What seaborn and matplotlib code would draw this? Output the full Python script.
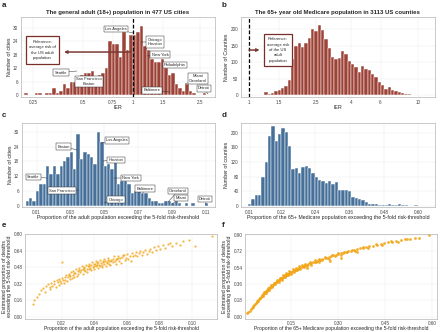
import numpy as np
import pandas as pd
import seaborn as sns
import matplotlib
matplotlib.use("Agg")
import matplotlib.pyplot as plt

sns.set_theme(style="whitegrid")
plt.rcParams['font.family'] = ['Liberation Sans', 'DejaVu Sans']

# ---------------- data ----------------
# Panel a: IER histogram, 477 cities (log10 bins)
a_bin_lo, a_bin_w = -0.6545, 0.021
a_counts = [1, 0, 0, 1, 1, 0, 1, 1, 3, 1, 2, 5, 3,
            6, 6, 7, 9, 10, 10, 11, 8, 9, 10, 12,
            24, 23, 23, 17, 28, 20, 27, 27, 28, 31,
            22, 20, 16, 15,
            15, 16, 12, 9, 10, 5, 3, 2, 5, 2, 1, 0, 0, 1]
a_ticks = [0.25, 0.5, 0.75, 1, 1.5, 2.5]
a_tick_labels = ["0.25", "0.5", "0.75", "1", "1.5", "2.5"]

# Panel b: IER histogram, 3113 counties (log10 bins)
b_bin_lo, b_bin_w = 0.0494, 0.01976
b_counts = [2, 0, 10, 5, 8, 12, 17, 22, 28, 45,
            110, 150, 158, 145, 157, 172, 200, 195, 212, 196,
            170, 143, 115, 110, 112, 135, 125, 105, 95, 85,
            70, 88, 80, 75, 63, 55, 40, 30, 20, 25,
            15, 14, 10, 7, 5, 4, 2, 1, 0, 2]
b_ticks = [1, 1.5, 2.5, 4, 6, 10]
b_tick_labels = ["1", "1.5", "2.5", "4", "6", "10"]

# Panel c: proportion of adults over 5-fold threshold (cities)
c_bin_lo, c_bin_w = 0.0035, 0.002
c_counts = [2, 3, 2, 6, 9, 9, 16, 13, 16, 13,
            16, 18, 20, 22, 15, 29, 19, 22, 21, 20,
            17, 30, 26, 16, 17, 15, 20, 9, 10, 10,
            9, 5, 6, 7, 5, 5, 3, 2, 2, 1,
            1, 2, 2, 1, 2, 1, 0, 1, 0, 1, 0, 0, 0, 1]
c_ticks = [0.01, 0.03, 0.05, 0.07, 0.09, 0.11]

# Panel d: proportion of 65+ Medicare population over threshold (counties)
d_bin_lo, d_bin_w = 0.0042, 0.01166
d_counts = [5, 17, 28, 30, 79, 120, 190, 218, 178, 196,
            214, 201, 165, 100, 104, 90, 106, 108, 103, 90,
            80, 71, 69, 62, 69, 60, 66, 44, 44, 42,
            39, 24, 21, 17, 15, 9, 5, 5, 4, 3,
            3, 3, 4, 2, 2, 5, 2, 1, 0, 0, 2]
d_ticks = [0.01, 0.12, 0.24, 0.36, 0.48, 0.60]

# Panel e: cities scatter
e_x = [0.0026, 0.0032, 0.0045, 0.0062, 0.0070, 0.0087, 0.0097, 0.0105, 0.0118, 0.0125,
       0.0128, 0.0135, 0.0142, 0.015, 0.0155, 0.0162, 0.0168, 0.0175, 0.018, 0.0185,
       0.019, 0.0195, 0.020, 0.0203, 0.0208, 0.0212, 0.0218, 0.0222, 0.0228, 0.0232,
       0.0238, 0.0243, 0.0248, 0.0252, 0.0258, 0.0262, 0.0268, 0.0272, 0.0278, 0.0282,
       0.0288, 0.0292, 0.0298, 0.0302, 0.0308, 0.0312, 0.0318, 0.0322, 0.0328, 0.0332,
       0.0338, 0.0342, 0.0348, 0.0352, 0.0358, 0.0362, 0.0368, 0.0372, 0.0378, 0.0382,
       0.0388, 0.0392, 0.0398, 0.0402, 0.0408, 0.0412, 0.0418, 0.0422, 0.0428, 0.0432,
       0.0438, 0.0442, 0.0448, 0.0452, 0.0458, 0.0462, 0.0468, 0.0472, 0.0478, 0.0482,
       0.0488, 0.0492, 0.0498, 0.0505, 0.0512, 0.0518, 0.0525, 0.0532, 0.0538, 0.0545,
       0.0552, 0.0558, 0.0565, 0.0572, 0.058, 0.0588, 0.0595, 0.0602, 0.061, 0.0618,
       0.0625, 0.0632, 0.064, 0.0648, 0.0655, 0.0665, 0.0672, 0.068, 0.069, 0.070,
       0.0712, 0.0722, 0.0735, 0.0745, 0.0755, 0.0768, 0.078, 0.0792, 0.0805, 0.082,
       0.0835, 0.0852, 0.0867, 0.088, 0.0905, 0.0925, 0.0944, 0.098, 0.102, 0.1123,
       0.0245, 0.0275, 0.0305, 0.0335, 0.0365, 0.0395, 0.0425, 0.0455, 0.0485, 0.0515,
       0.0545, 0.0575, 0.0335, 0.0395, 0.0445, 0.0475, 0.0415, 0.0365, 0.0505, 0.0535]
e_y = [0.127, 0.159, 0.19, 0.222, 0.26, 0.276, 0.238, 0.30, 0.317, 0.27,
       0.286, 0.33, 0.30, 0.349, 0.32, 0.29, 0.36, 0.335, 0.31, 0.37,
       0.345, 0.325, 0.38, 0.533, 0.355, 0.33, 0.39, 0.36, 0.41, 0.345,
       0.385, 0.42, 0.37, 0.40, 0.435, 0.38, 0.41, 0.445, 0.39, 0.425,
       0.46, 0.40, 0.44, 0.415, 0.47, 0.43, 0.45, 0.49, 0.42, 0.46,
       0.48, 0.44, 0.505, 0.465, 0.43, 0.49, 0.515, 0.47, 0.45, 0.50,
       0.53, 0.48, 0.46, 0.51, 0.545, 0.49, 0.525, 0.47, 0.505, 0.55,
       0.495, 0.52, 0.48, 0.535, 0.56, 0.51, 0.54, 0.49, 0.525, 0.57,
       0.515, 0.545, 0.50, 0.555, 0.53, 0.585, 0.54, 0.51, 0.565, 0.59,
       0.545, 0.57, 0.52, 0.58, 0.60, 0.555, 0.575, 0.61, 0.565, 0.59,
       0.54, 0.62, 0.585, 0.60, 0.63, 0.59, 0.615, 0.64, 0.60, 0.625,
       0.65, 0.61, 0.64, 0.66, 0.63, 0.675, 0.645, 0.69, 0.66, 0.70,
       0.665, 0.71, 0.72, 0.685, 0.72, 0.70, 0.74, 0.746, 0.689, 0.784,
       0.405, 0.425, 0.455, 0.475, 0.495, 0.515, 0.535, 0.545, 0.555, 0.565,
       0.575, 0.595, 0.455, 0.495, 0.505, 0.535, 0.500, 0.465, 0.545, 0.560]
e_ticks_x = [0.02, 0.04, 0.06, 0.08, 0.10]
e_ticks_y = [0.00, 0.16, 0.32, 0.48, 0.64, 0.80]

# Panel f: counties scatter
f_x = [0.010, 0.014, 0.018, 0.021, 0.024, 0.027, 0.030, 0.032, 0.035, 0.037,
       0.040, 0.042, 0.044, 0.046, 0.048, 0.050, 0.052, 0.054, 0.056, 0.058,
       0.060, 0.062, 0.064, 0.066, 0.068, 0.070, 0.072, 0.074, 0.076, 0.078,
       0.080, 0.082, 0.084, 0.086, 0.088, 0.090, 0.092, 0.094, 0.096, 0.098,
       0.100, 0.102, 0.104, 0.106, 0.108, 0.110, 0.112, 0.114, 0.116, 0.118,
       0.120, 0.122, 0.124, 0.126, 0.128, 0.130, 0.132, 0.134, 0.136, 0.138,
       0.140, 0.142, 0.144, 0.146, 0.148, 0.150, 0.153, 0.156, 0.159, 0.162,
       0.165, 0.168, 0.171, 0.174, 0.177, 0.180, 0.184, 0.188, 0.192, 0.196,
       0.200, 0.205, 0.210, 0.215, 0.220, 0.226, 0.232, 0.238, 0.244, 0.250,
       0.257, 0.264, 0.271, 0.278, 0.285, 0.292, 0.300, 0.308, 0.316, 0.324,
       0.332, 0.340, 0.350, 0.360, 0.370, 0.380, 0.390, 0.400, 0.412, 0.424,
       0.436, 0.448, 0.460, 0.472, 0.485, 0.500, 0.515, 0.530, 0.545, 0.560,
       0.590,
       0.060, 0.065, 0.070, 0.075, 0.080, 0.085, 0.090, 0.095, 0.100, 0.105,
       0.110, 0.115, 0.120, 0.125, 0.130, 0.135, 0.140, 0.145, 0.150, 0.155,
       0.160, 0.165, 0.170, 0.175, 0.180, 0.185, 0.190, 0.195, 0.200, 0.210,
       0.215, 0.225, 0.230, 0.240, 0.250, 0.260, 0.270, 0.280, 0.290, 0.300,
       0.310, 0.320, 0.330, 0.345, 0.355, 0.380, 0.395, 0.420, 0.440, 0.470,
       0.490, 0.520, 0.275, 0.310, 0.360, 0.200, 0.240]
f_y = [0.040, 0.055, 0.068, 0.085, 0.095, 0.108, 0.118, 0.128, 0.140, 0.150,
       0.158, 0.170, 0.176, 0.188, 0.195, 0.205, 0.212, 0.222, 0.228, 0.236,
       0.245, 0.250, 0.260, 0.266, 0.272, 0.282, 0.287, 0.296, 0.300, 0.310,
       0.315, 0.320, 0.330, 0.334, 0.342, 0.345, 0.352, 0.358, 0.362, 0.372,
       0.375, 0.380, 0.388, 0.390, 0.398, 0.402, 0.405, 0.414, 0.416, 0.424,
       0.425, 0.432, 0.436, 0.440, 0.448, 0.450, 0.455, 0.460, 0.462, 0.470,
       0.470, 0.476, 0.480, 0.484, 0.490, 0.490, 0.498, 0.503, 0.510, 0.514,
       0.520, 0.527, 0.530, 0.538, 0.540, 0.545, 0.552, 0.558, 0.563, 0.570,
       0.575, 0.582, 0.587, 0.594, 0.600, 0.606, 0.614, 0.620, 0.627, 0.634,
       0.642, 0.650, 0.657, 0.668, 0.675, 0.682, 0.690, 0.698, 0.706, 0.713,
       0.720, 0.725, 0.735, 0.745, 0.752, 0.760, 0.768, 0.775, 0.784, 0.792,
       0.800, 0.810, 0.820, 0.826, 0.834, 0.845, 0.852, 0.860, 0.866, 0.872,
       0.900,
       0.230, 0.275, 0.265, 0.315, 0.300, 0.345, 0.330, 0.375, 0.360, 0.402,
       0.388, 0.430, 0.410, 0.455, 0.436, 0.478, 0.455, 0.500, 0.472, 0.522,
       0.495, 0.540, 0.512, 0.555, 0.530, 0.570, 0.545, 0.585, 0.560, 0.602,
       0.575, 0.620, 0.598, 0.636, 0.620, 0.660, 0.640, 0.680, 0.668, 0.700,
       0.684, 0.718, 0.708, 0.735, 0.725, 0.770, 0.760, 0.798, 0.790, 0.835,
       0.825, 0.860, 0.610, 0.650, 0.715, 0.540, 0.600]
f_ticks_x = [0.15, 0.30, 0.45, 0.60]
f_ticks_y = [0.00, 0.18, 0.36, 0.54, 0.72, 0.90]

# Annotations (label, text position, pointer position) in axes fraction
a_labels = [("Los Angeles", (0.490, 0.847), (0.578, 0.797)),
            ("Chicago\nHouston", (0.691, 0.685), (0.619, 0.685)),
            ("New York", (0.717, 0.529), (0.650, 0.511)),
            ("Philadelphia", (0.794, 0.399), (0.727, 0.386)),
            ("Miami\nCleveland", (0.912, 0.230), (0.846, 0.162)),
            ("Detroit", (0.943, 0.106), (0.964, 0.037)),
            ("Baltimore", (0.676, 0.081), (0.768, 0.062)),
            ("Seattle", (0.207, 0.305), (0.290, 0.324)),
            ("San Francisco\nBoston", (0.352, 0.193), (0.413, 0.149))]
c_labels = [("Boston", (0.216, 0.720), (0.286, 0.679)),
            ("Los Angeles", (0.493, 0.792), (0.410, 0.762)),
            ("Houston", (0.488, 0.560), (0.421, 0.548)),
            ("Seattle", (0.061, 0.357), (0.131, 0.345)),
            ("New York", (0.565, 0.345), (0.477, 0.345)),
            ("San Francisco", (0.208, 0.196), (0.296, 0.202)),
            ("Chicago", (0.488, 0.089), (0.426, 0.048)),
            ("Baltimore", (0.638, 0.220), (0.627, 0.167)),
            ("Cleveland", (0.809, 0.190), (0.757, 0.060)),
            ("Miami", (0.824, 0.107), (0.778, 0.036)),
            ("Detroit", (0.948, 0.095), (0.953, 0.024))]

RED = "#9C4237"
BLUE = "#46709A"
ORANGE = "#F2A61A"

# ---------------- figure ----------------
W, H = 440, 332
fig = plt.figure(figsize=(4.4, 3.32), dpi=100)

def box(l, t, r, b):
    return [l / W, 1 - b / H, (r - l) / W, (b - t) / H]

ax_a = fig.add_axes(box(20.7, 16.7, 215, 97))
ax_b = fig.add_axes(box(240.7, 16.7, 435, 97))
ax_c = fig.add_axes(box(21.7, 123, 215, 207))
ax_d = fig.add_axes(box(241, 123, 435, 207))
ax_e = fig.add_axes(box(25, 234, 217, 318.5))
ax_f = fig.add_axes(box(245, 234, 437, 318.5))

TICK_FS = 3.3
LAB_FS = 3.8

def style(ax):
    for s in ax.spines.values():
        s.set_color("#B5B5B5")
        s.set_linewidth(0.5)
    ax.grid(True, color="#EBEBEB", linewidth=0.35)
    ax.set_axisbelow(True)
    ax.tick_params(axis="both", which="both", labelsize=TICK_FS, length=1.2, width=0.3,
                   color="#999999", pad=0.6, labelcolor="#444444")
    ax.xaxis.label.set_size(LAB_FS)
    ax.yaxis.label.set_size(LAB_FS)
    ax.xaxis.labelpad = 0.3
    ax.yaxis.labelpad = 1.0

def hist(ax, lo, w, counts, color, log):
    n = len(counts)
    edges = [float(v) for v in (lo + w * np.arange(n + 1))]
    centers = [(edges[i] + edges[i + 1]) / 2 for i in range(n)]
    if log:
        df = pd.DataFrame({"x": [10 ** c for c in centers], "n": counts})
    else:
        df = pd.DataFrame({"x": centers, "n": counts})
    sns.histplot(data=df, x="x", weights="n", bins=edges, ax=ax, color=color,
                 edgecolor="white", linewidth=0.35, alpha=1, log_scale=log)

def labels(ax, items):
    for txt, tpos, ppos in items:
        ax.annotate(txt, xy=ppos, xytext=tpos, xycoords="axes fraction",
                    textcoords="axes fraction", ha="center", va="center",
                    fontsize=2.9, linespacing=1.1, zorder=5,
                    bbox=dict(boxstyle="square,pad=0.35", fc="white", ec="#333333", lw=0.35),
                    arrowprops=dict(arrowstyle="-", color="#333333", lw=0.35,
                                    shrinkA=0, shrinkB=0))

# --- a ---
hist(ax_a, a_bin_lo, a_bin_w, a_counts, RED, True)
ax_a.set_xlim(10 ** -0.676, 10 ** 0.49)
ax_a.set_ylim(-0.8, 35)
ax_a.set_xticks(a_ticks)
ax_a.set_xticklabels(a_tick_labels)
ax_a.minorticks_off()
ax_a.set_yticks([0, 6, 12, 18, 24, 30])
ax_a.axvline(1, color="black", ls=(0, (3, 1.6)), lw=0.9, zorder=4)
ax_a.set_xlabel("IER")
ax_a.set_ylabel("Number of cities")
ax_a.set_title("The general adult (18+) population in 477 US cities",
               fontsize=4.3, fontweight="bold", pad=2)
style(ax_a)
labels(ax_a, a_labels)
ax_a.annotate("", xy=(0.223, 0.56), xytext=(0.568, 0.56), xycoords="axes fraction",
              arrowprops=dict(arrowstyle="-|>", color="#7A3A33", lw=1.1,
                              mutation_scale=4, shrinkA=0, shrinkB=0), zorder=5)
ax_a.text(0.112, 0.585, "Reference:\naverage risk of\nthe US adult\npopulation",
          transform=ax_a.transAxes, ha="center", va="center", fontsize=3.0,
          linespacing=1.5, zorder=6,
          bbox=dict(boxstyle="square,pad=0.8", fc="white", ec="#7A2E28", lw=0.9))

# --- b ---
hist(ax_b, b_bin_lo, b_bin_w, b_counts, RED, True)
ax_b.set_xlim(10 ** -0.051, 10 ** 1.101)
ax_b.set_ylim(-5, 237)
ax_b.set_xticks(b_ticks)
ax_b.set_xticklabels(b_tick_labels)
ax_b.minorticks_off()
ax_b.set_yticks([0, 50, 100, 150, 200])
ax_b.axvline(1, color="black", ls=(0, (3, 1.6)), lw=0.9, zorder=4)
ax_b.set_xlabel("IER")
ax_b.set_ylabel("Number of Counties")
ax_b.set_title("The 65+ year old Medicare population in 3113 US counties",
               fontsize=4.3, fontweight="bold", pad=2)
style(ax_b)
ax_b.annotate("", xy=(0.097, 0.585), xytext=(0.043, 0.585), xycoords="axes fraction",
              arrowprops=dict(arrowstyle="-|>", color="#7A3A33", lw=1.1,
                              mutation_scale=4, shrinkA=0, shrinkB=0), zorder=5)
ax_b.text(0.192, 0.585, "Reference:\naverage risk\nof the US\nadult\npopulation",
          transform=ax_b.transAxes, ha="center", va="center", fontsize=3.0,
          linespacing=1.45, zorder=6,
          bbox=dict(boxstyle="square,pad=0.8", fc="white", ec="#7A2E28", lw=0.9))

# --- c ---
hist(ax_c, c_bin_lo, c_bin_w, c_counts, BLUE, False)
ax_c.set_xlim(0.00113, 0.1154)
ax_c.set_ylim(-0.5, 33.6)
ax_c.set_xticks(c_ticks)
ax_c.set_xticklabels([f"{t:.2f}" for t in c_ticks])
ax_c.set_yticks([0, 6, 12, 18, 24, 30])
ax_c.set_xlabel("Proportion of the adult population exceeding the 5-fold risk-threshold")
ax_c.set_ylabel("Number of cities")
style(ax_c)
labels(ax_c, c_labels)

# --- d ---
hist(ax_d, d_bin_lo, d_bin_w, d_counts, BLUE, False)
ax_d.set_xlim(-0.0203, 0.659)
ax_d.set_ylim(-3.7, 227)
ax_d.set_xticks(d_ticks)
ax_d.set_xticklabels([f"{t:.2f}" for t in d_ticks])
ax_d.set_yticks([0, 40, 80, 120, 160, 200])
ax_d.set_xlabel("Proportion of the 65+ Medicare population exceeding the 5-fold risk-threshold")
ax_d.set_ylabel("Number of counties")
style(ax_d)

# --- e ---
sns.scatterplot(x=e_x, y=e_y, ax=ax_e, color=ORANGE, s=2.6, linewidth=0, alpha=0.8)
ax_e.set_xlim(-0.0026, 0.1154)
ax_e.set_ylim(-0.016, 0.803)
ax_e.set_xticks(e_ticks_x)
ax_e.set_xticklabels([f"{t:.2f}" for t in e_ticks_x])
ax_e.set_yticks(e_ticks_y)
ax_e.set_yticklabels([f"{t:.2f}" for t in e_ticks_y])
ax_e.set_xlabel("Proportion of the adult population exceeding the 5-fold risk-threshold")
ax_e.set_ylabel("Estimated proportion of deaths\nexceeding the 5-fold risk-threshold",
                linespacing=1.0)
style(ax_e)

# --- f ---
sns.scatterplot(x=f_x, y=f_y, ax=ax_f, color=ORANGE, s=4.0, linewidth=0, alpha=0.9)
ax_f.set_xlim(0.003, 0.616)
ax_f.set_ylim(-0.018, 0.911)
ax_f.set_xticks(f_ticks_x)
ax_f.set_xticklabels([f"{t:.2f}" for t in f_ticks_x])
ax_f.set_yticks(f_ticks_y)
ax_f.set_yticklabels([f"{t:.2f}" for t in f_ticks_y])
ax_f.set_xlabel("Proportion of the 65+ Medicare population exceeding the 5-fold risk-threshold")
ax_f.set_ylabel("Estimated proportion of deaths\nexceeding the 5-fold risk-threshold",
                linespacing=1.0)
style(ax_f)
for ax in (ax_e, ax_f):
    ax.xaxis.label.set_size(3.6)
    ax.tick_params(axis="x", pad=0.4)

# panel letters
for letter, (px, py) in zip("abcdef", [(2, 2), (222, 2), (2, 112), (222, 112), (2, 222), (222, 222)]):
    fig.text(px / W, 1 - py / H, letter, fontsize=5.8, fontweight="bold", ha="left", va="top")

fig.savefig("out.png", dpi=100)
